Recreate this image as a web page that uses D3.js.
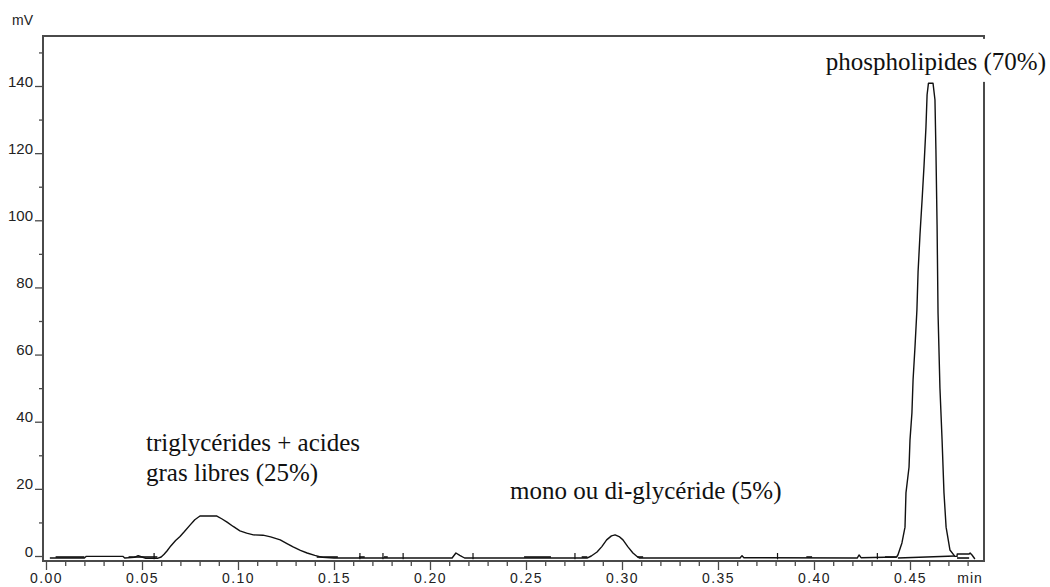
<!DOCTYPE html>
<html><head><meta charset="utf-8">
<script src="https://cdn.jsdelivr.net/npm/d3@7"></script>
<style>
body{margin:0;background:#fff;}
svg{display:block;}
</style></head>
<body>
<svg id="chart" width="1050" height="587"></svg>
<script>
// ---- data ----
const traceTime = [0.002,0.020,0.021,0.040,0.041,0.046,0.048,0.050,0.052,0.058,0.060,0.0615,0.063,0.065,0.0675,0.0698,0.072,0.075,0.0775,0.0802,0.0890,0.0915,0.0943,0.0975,0.101,0.1045,0.108,0.113,0.117,0.122,0.1255,0.1287,0.1325,0.136,0.140,0.144,0.150,0.2115,0.2135,0.2155,0.218,0.2818,0.284,0.287,0.2895,0.292,0.2945,0.2964,0.2985,0.3005,0.303,0.3057,0.308,0.309,0.3615,0.3625,0.3635,0.4225,0.4235,0.4245,0.4430,0.4437,0.4458,0.4474,0.4479,0.4495,0.4500,0.4510,0.4516,0.4526,0.4536,0.4542,0.4552,0.4563,0.4573,0.4583,0.4589,0.4596,0.4620,0.4630,0.4635,0.4641,0.4646,0.4656,0.4667,0.4677,0.4688,0.4708,0.4734,0.4745,0.4746,0.4808,0.4813,0.4823,0.4838];
const traceMV   = [-0.6,-0.6,-0.1,-0.1,-0.6,-0.4,0.1,-0.3,-0.7,-0.7,-0.3,0.5,1.5,3.0,4.6,5.8,7.2,9.2,10.8,11.9,11.9,11.1,10.1,8.8,7.5,6.8,6.3,6.2,5.7,4.8,3.7,2.7,1.7,0.9,0.2,-0.4,-0.6,-0.6,0.9,0.2,-0.6,-0.6,0.0,1.2,2.8,4.8,6.0,6.3,5.8,4.8,2.8,0.9,-0.2,-0.6,-0.6,0.1,-0.5,-0.6,0.3,-0.5,-0.3,0.3,3.9,8.6,18.8,26.5,34.6,42.6,52.5,62.3,73.3,84.6,95.7,106.1,116.2,127.6,137.4,140.8,140.8,135.9,121,98.7,72.4,50,34.6,18.8,8.6,1.8,-0.1,-0.1,0.6,0.6,0.9,0.3,-0.9];

// integration baselines drawn by the integrator
const baseStart   = [0.005,0.043,0.141,0.163,0.176,0.249,0.279,0.308,0.396,0.437,0.4437,0.4745];
const baseEnd     = [0.020,0.058,0.152,0.166,0.178,0.263,0.282,0.311,0.399,0.443,0.4734,0.4808];
const baseStartMV = [-0.3,-0.3,-0.3,-0.3,-0.3,-0.3,-0.3,-0.3,-0.3,-0.3,-0.6,-0.6];
const baseEndMV   = [-0.3,-0.3,-0.3,-0.3,-0.3,-0.3,-0.3,-0.3,-0.3,-0.3,0.0,-0.6];

// integration event marks
const eventTimes = [0.0563,0.1635,0.1755,0.186,0.2224,0.2755,0.381,0.433];

// axis ticks
const xMajorTicks = [0,0.05,0.10,0.15,0.20,0.25,0.30,0.35,0.40,0.45];
const xTickLabels = ["0.00","0.05","0.10","0.15","0.20","0.25","0.30","0.35","0.40","0.45"];
const yMajorTicks = [0,20,40,60,80,100,120,140];
const yTickLabels = ["0","20","40","60","80","100","120","140"];

// annotations (position in data units: time, mV of the text baseline)
const peakLabels = [
  {lines:["triglycérides + acides","gras libres (25%)"], t:0.0521, mv:31.3, anchor:"start"},
  {lines:["mono ou di-glycéride (5%)"], t:0.2417, mv:17.0, anchor:"start"},
  {lines:["phospholipides (70%)"], t:0.4635, mv:144.8, anchor:"middle", box:true}
];

// ---- drawing ----
const svg = d3.select("#chart");
const frame = {left:43, right:984, top:36, bottom:561};
const x = d3.scaleLinear().domain([0,0.45]).range([46,910]);
const y = d3.scaleLinear().domain([0,140]).range([556,86]);
const axisColor = "#4a4a4a";
const tickFont = "Liberation Sans, Arial, sans-serif";

// y axis major ticks
const yAx = svg.append("g").attr("transform",`translate(${frame.left},0)`)
  .call(d3.axisLeft(y).tickValues(yMajorTicks).tickSize(8).tickPadding(2)
        .tickFormat((d,i)=>yTickLabels[i]));
yAx.select(".domain").remove();
yAx.selectAll("line").attr("stroke",axisColor).attr("stroke-width",1.3);
yAx.selectAll("text").attr("dy","0").attr("y",0).attr("x",-10)
   .attr("font-family",tickFont).attr("font-size",15).attr("fill","#222");

// y minor ticks
const yMinor = d3.range(10,160,20);
const yAxm = svg.append("g").attr("transform",`translate(${frame.left},0)`)
  .call(d3.axisLeft(y).tickValues(yMinor).tickSize(4).tickFormat(""));
yAxm.select(".domain").remove();
yAxm.selectAll("line").attr("stroke",axisColor).attr("stroke-width",1.3);

// x axis major
const xAx = svg.append("g").attr("transform",`translate(0,${frame.bottom})`)
  .call(d3.axisBottom(x).tickValues(xMajorTicks).tickSize(9).tickPadding(2)
        .tickFormat((d,i)=>xTickLabels[i]));
xAx.select(".domain").remove();
xAx.selectAll("line").attr("stroke",axisColor).attr("stroke-width",1.3);
xAx.selectAll("text").attr("dy","0").attr("y",22)
   .attr("font-family",tickFont).attr("font-size",14).attr("letter-spacing","1.4px").attr("fill","#222");

// x minor ticks
const xMinor = d3.range(0,49).map(i=>i/100).filter(v=>Math.round(v*100)%5!==0);
const xAxm = svg.append("g").attr("transform",`translate(0,${frame.bottom})`)
  .call(d3.axisBottom(x).tickValues(xMinor).tickSize(5).tickFormat(""));
xAxm.select(".domain").remove();
xAxm.selectAll("line").attr("stroke",axisColor).attr("stroke-width",1.3);

// axis unit labels
svg.append("text").attr("x",33).attr("y",25).attr("text-anchor","end")
  .attr("font-family",tickFont).attr("font-size",14).attr("fill","#222").text("mV");
svg.append("text").attr("x",970).attr("y",583).attr("text-anchor","middle")
  .attr("font-family",tickFont).attr("font-size",14).attr("letter-spacing","1px").attr("fill","#222").text("min");

// frame
svg.append("rect").attr("x",frame.left).attr("y",frame.top)
  .attr("width",frame.right-frame.left).attr("height",frame.bottom-frame.top)
  .attr("fill","none").attr("stroke",axisColor).attr("stroke-width",2);

// baselines
const bl = svg.append("g");
baseStart.forEach((s,i)=>{
  bl.append("line").attr("x1",x(s)).attr("x2",x(baseEnd[i]))
    .attr("y1",y(baseStartMV[i])).attr("y2",y(baseEndMV[i]))
    .attr("stroke","#111").attr("stroke-width",1.6);
});

// event marks
svg.append("g").selectAll("line").data(eventTimes).join("line")
  .attr("x1",d=>x(d)).attr("x2",d=>x(d))
  .attr("y1",y(0.9)).attr("y2",y(-1.0))
  .attr("stroke","#111").attr("stroke-width",1.2);

// trace
const pts = traceTime.map((t,i)=>[t,traceMV[i]]);
svg.append("path").datum(pts)
  .attr("d",d3.line().x(d=>x(d[0])).y(d=>y(d[1])))
  .attr("fill","none").attr("stroke","#111").attr("stroke-width",1.4)
  .attr("stroke-linejoin","round");

// labels
const serif = "Liberation Serif, Times New Roman, serif";
peakLabels.forEach(L=>{
  const g = svg.append("g");
  const tx = x(L.t), ty = y(L.mv);
  const txt = g.append("text").attr("font-family",serif).attr("font-size",25)
     .attr("fill","#111").attr("text-anchor",L.anchor);
  L.lines.forEach((s,i)=>{
    txt.append("tspan").attr("x",tx).attr("y",ty+i*30).text(s);
  });
  if(L.box){
    const bb = txt.node().getBBox();
    g.insert("rect","text").attr("x",bb.x-4).attr("y",ty-31)
      .attr("width",bb.width+8).attr("height",43).attr("fill","#fff");
  }
});
</script>
</body></html>
